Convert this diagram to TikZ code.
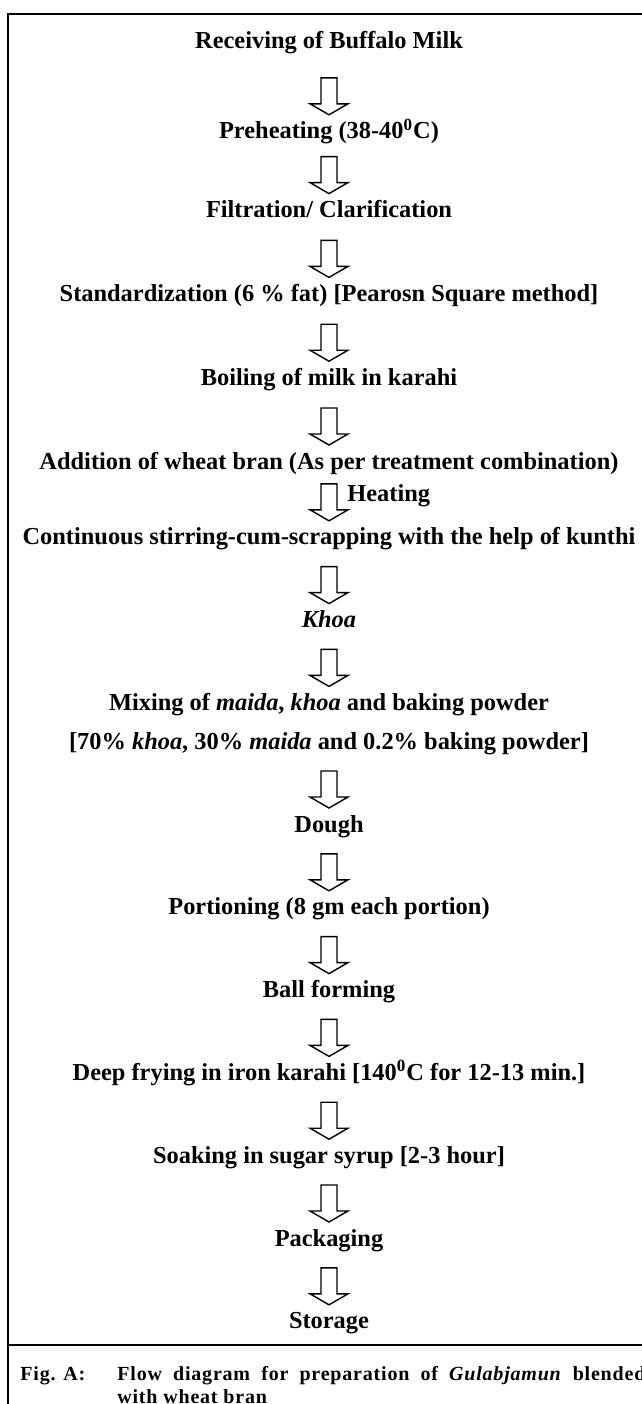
\documentclass[tikz,border=0pt]{standalone}
\usepackage{fontspec}
\setmainfont{Liberation Serif}
\newfontfamily\capfont[LetterSpace=4]{Liberation Serif}
\usetikzlibrary{positioning,calc}

\newcommand{\flowarrow}[2]{%
  \draw[blockarrow] ($(#1.center |- #2.center)+(0,-18)$) -- ++(-19,-11) -- ++(11,0) -- ++(0,-26) -- ++(16,0) -- ++(0,26) -- ++(11,0) -- cycle;}

\begin{document}
\begin{tikzpicture}[
    x=0.5pt, y=-0.5pt,
    node distance=29pt,
    stepbox/.style={font=\fontsize{12.2}{14}\selectfont\bfseries,inner sep=0pt,text height=9pt,text depth=3pt},
    blockarrow/.style={draw=black,line width=0.7pt,fill=white,line join=miter},
    frameline/.style={draw=black,line width=1.3pt},
    captext/.style={font=\capfont\fontsize{10}{11.5}\selectfont\bfseries,inner sep=0pt}
]
\useasboundingbox (0,0) rectangle (642,1404);
\clip (0,0) rectangle (642,1404);
\fill[white] (0,0) rectangle (642,1404);

\draw[frameline] (8,1420) -- (8,14) -- (660,14);
\draw[frameline] (8,1345) -- (660,1345);

\node[stepbox] (recv) at (329,42) {Receiving of Buffalo Milk};
\node[stepbox,below=33pt of recv] (preheat) {Preheating (38-40\textsuperscript{0}C)};
\node[stepbox,below=27pt of preheat] (filter) {Filtration/ Clarification};
\node[stepbox,below=29.5pt of filter] (stand) {Standardization (6 \% fat) [Pearosn Square method]};
\node[stepbox,below=29.5pt of stand] (boil) {Boiling of milk in karahi};
\node[stepbox,below=29.5pt of boil] (addbran) {Addition of wheat bran (As per treatment combination)};
\node[stepbox,below=25.5pt of addbran] (stir) {Continuous stirring-cum-scrapping with the help of kunthi};
\node[stepbox,below=of stir] (khoa) {\textit{Khoa}};
\node[stepbox,below=of khoa] (mix) {Mixing of \textit{maida}, \textit{khoa} and baking powder};
\node[stepbox,below=7pt of mix] (ratio) {[70\% \textit{khoa}, 30\% \textit{maida} and 0.2\% baking powder]};
\node[stepbox,below=of ratio] (dough) {Dough};
\node[stepbox,below=of dough] (portion) {Portioning (8 gm each portion)};
\node[stepbox,below=of portion] (ball) {Ball forming};
\node[stepbox,below=of ball] (fry) {Deep frying in iron karahi [140\textsuperscript{0}C for 12-13 min.]};
\node[stepbox,below=of fry] (soak) {Soaking in sugar syrup [2-3 hour]};
\node[stepbox,below=of soak] (pack) {Packaging};
\node[stepbox,below=of pack] (store) {Storage};

\node[stepbox,anchor=west] (heat) at ($(stir.center)+(18,-43)$) {Heating};

\flowarrow{recv}{preheat}
\flowarrow{preheat}{filter}
\flowarrow{filter}{stand}
\flowarrow{stand}{boil}
\flowarrow{boil}{addbran}
\flowarrow{addbran}{stir}
\flowarrow{stir}{khoa}
\flowarrow{khoa}{mix}
\flowarrow{ratio}{dough}
\flowarrow{dough}{portion}
\flowarrow{portion}{ball}
\flowarrow{ball}{fry}
\flowarrow{fry}{soak}
\flowarrow{soak}{pack}
\flowarrow{pack}{store}

\node[captext,anchor=north west] (figlabel) at (20,1366) {Fig. A:};
\node[captext,anchor=north west,text width=264pt,align=justify] (figtext) at (117,1366) {Flow diagram for preparation of \textit{Gulabjamun} blended\linebreak with wheat bran};
\end{tikzpicture}
\end{document}
